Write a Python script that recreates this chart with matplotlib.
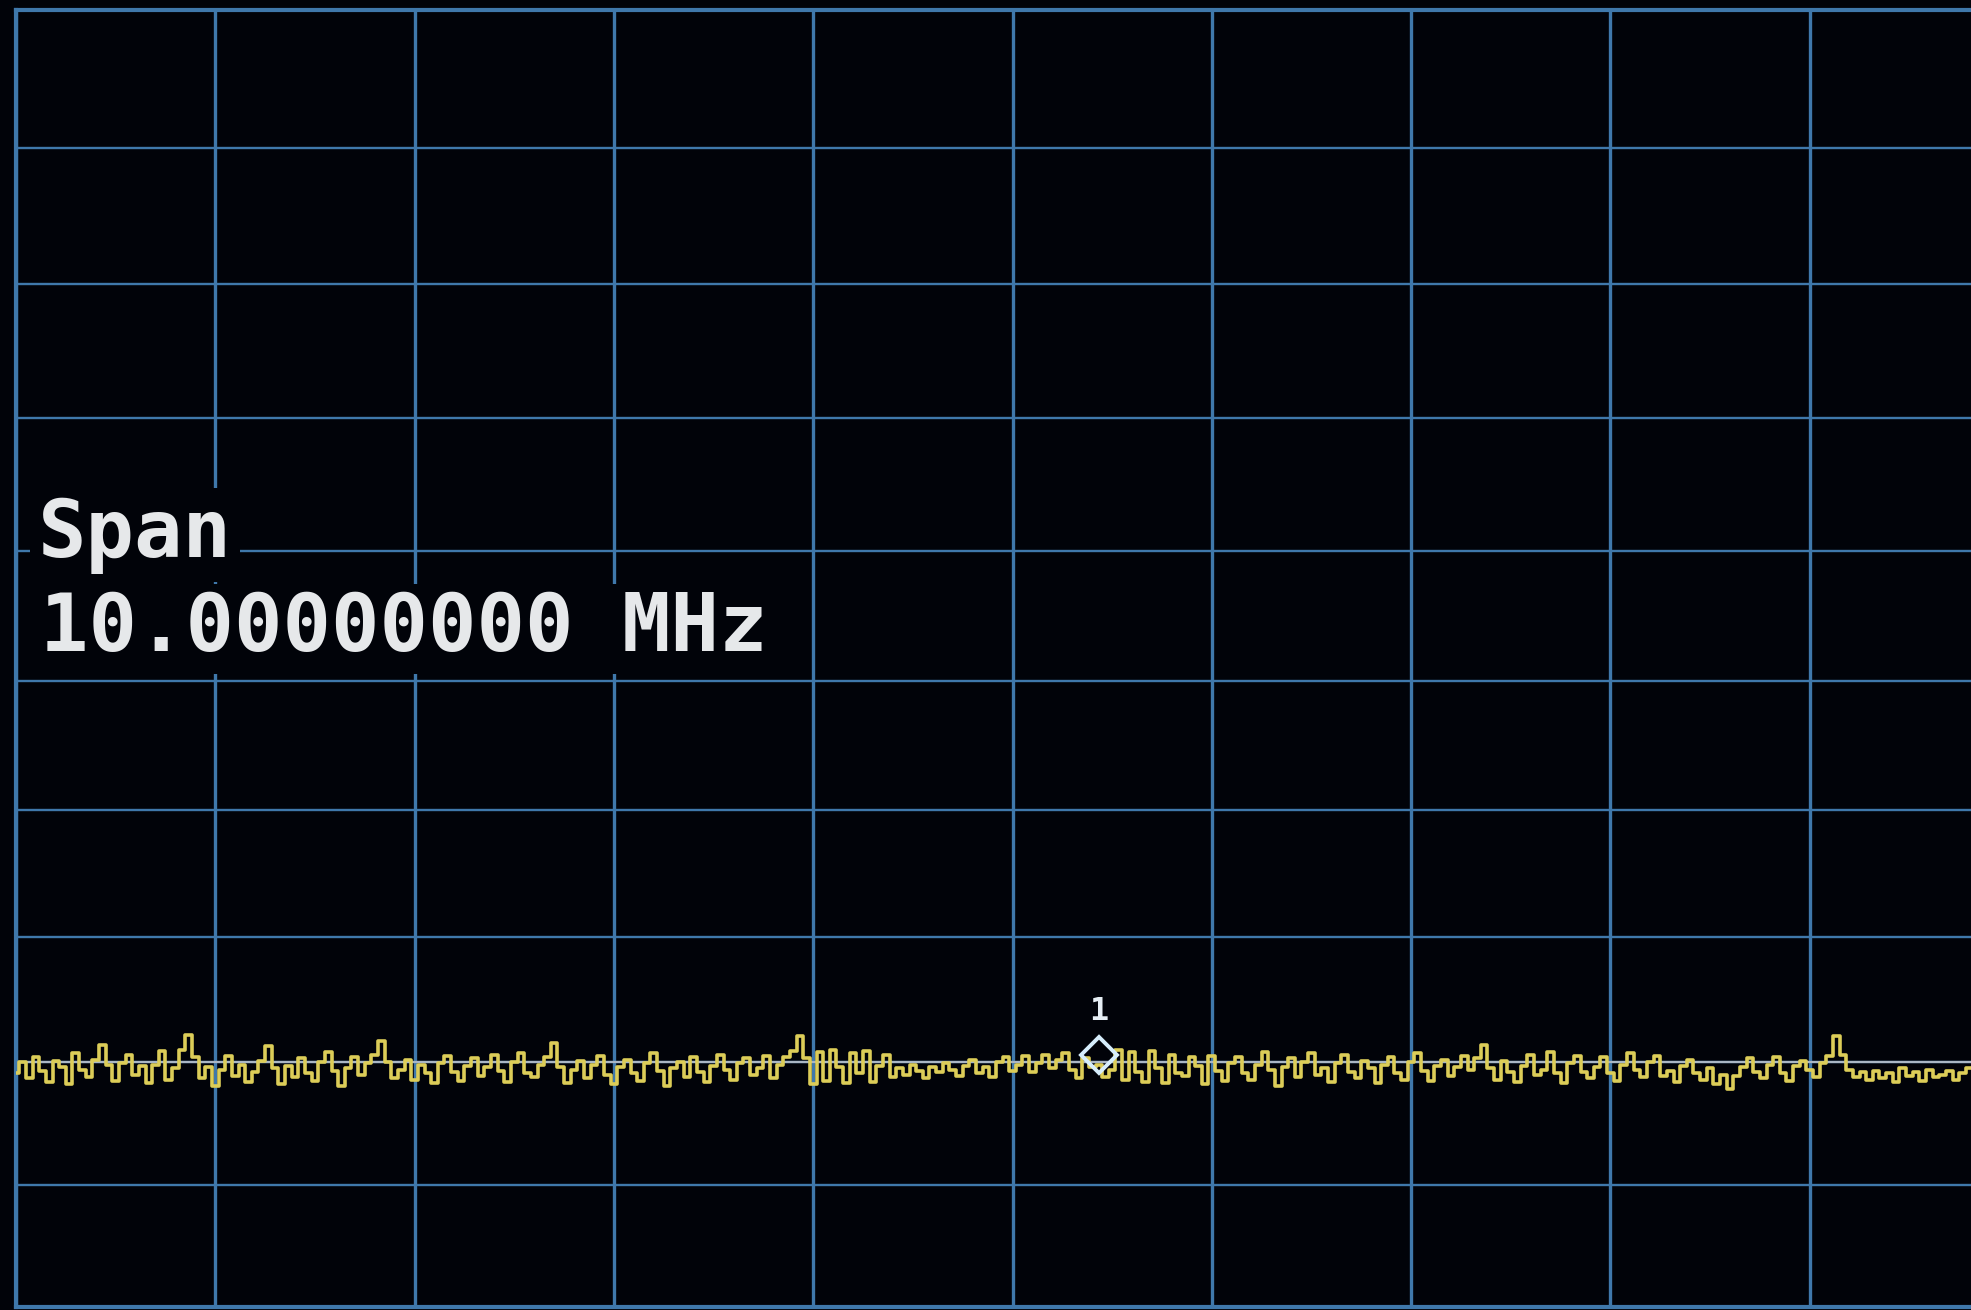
import numpy as np
import matplotlib
matplotlib.use('Agg')
import matplotlib.pyplot as plt
from matplotlib.transforms import offset_copy

# Sweep setup: 10 divisions across, 10 dB per division vertically.
span_mhz = 10.0
ref_level_dbm = 0.0
db_per_div = 10.0
display_line_dbm = -80.0

# Trace readings (dBm), one per sweep point.
trace_dbm = [
    -80.9, -80.0, -81.3, -79.6, -80.7, -81.6, -79.9, -80.4, -81.8, -79.3, -80.6, -81.2, -79.8, -78.6, -80.2, -81.5, -80.1, -79.4, -81.0, -80.3,
    -81.7, -80.2, -79.1, -81.4, -80.5, -79.0, -77.8, -79.6, -81.3, -80.4, -81.9, -80.6, -79.5, -81.1, -80.2, -81.6, -80.8, -79.9, -78.7, -80.5,
    -81.8, -80.3, -81.2, -79.7, -80.9, -81.5, -80.0, -79.2, -80.7, -81.9, -80.5, -79.6, -81.0, -80.1, -79.4, -78.3, -80.0, -81.3, -80.6, -79.8,
    -81.4, -80.2, -80.9, -81.7, -80.1, -79.5, -80.8, -81.5, -80.3, -79.7, -81.1, -80.4, -79.4, -80.7, -81.6, -80.0, -79.3, -80.9, -81.2, -80.2,
    -79.6, -78.5, -80.4, -81.7, -80.6, -79.9, -81.3, -80.2, -79.5, -81.0, -81.8, -80.4, -79.8, -80.9, -81.5, -80.1, -79.3, -80.7, -81.9, -80.5,
    -80.0, -81.2, -79.6, -80.8, -81.6, -80.3, -79.4, -80.6, -81.4, -80.1, -79.7, -81.0, -80.5, -79.5, -81.3, -80.2, -79.6, -79.1, -77.9, -79.7,
    -81.8, -79.2, -81.5, -79.0, -80.4, -81.7, -79.3, -80.9, -79.1, -81.6, -80.3, -79.4, -81.2, -80.5, -81.0, -80.2, -80.7, -81.3, -80.4, -80.8,
    -80.1, -80.6, -81.1, -80.3, -79.8, -80.9, -80.4, -81.2, -80.0, -79.6, -80.7, -80.2, -79.5, -80.8, -80.1, -79.4, -80.5, -79.8, -79.3, -80.6,
    -81.3, -79.7, -80.4, -80.2, -81.2, -80.6, -79.0, -81.4, -79.2, -80.8, -81.6, -79.1, -80.5, -81.7, -79.4, -80.9, -81.1, -79.6, -80.3, -81.8,
    -79.5, -80.7, -81.5, -80.1, -79.6, -80.9, -81.4, -80.2, -79.2, -80.6, -81.9, -80.4, -79.7, -81.2, -80.0, -79.3, -81.0, -80.5, -81.6, -80.1,
    -79.4, -80.8, -81.3, -79.9, -80.5, -81.7, -80.2, -79.6, -80.9, -81.4, -80.0, -79.3, -80.7, -81.5, -80.3, -79.8, -81.1, -80.4, -79.5, -80.6,
    -79.7, -78.6, -80.5, -81.4, -79.9, -80.8, -81.6, -80.3, -79.4, -81.0, -80.6, -79.2, -80.9, -81.7, -80.1, -79.5, -80.8, -81.3, -80.4, -79.6,
    -80.9, -81.5, -80.2, -79.3, -80.6, -81.2, -80.0, -79.5, -81.1, -80.7, -81.6, -80.3, -79.8, -80.9, -81.4, -80.5, -81.8, -81.0, -82.2, -81.1,
    -80.4, -79.7, -80.8, -81.3, -80.2, -79.6, -80.9, -81.5, -80.3, -79.9, -80.6, -81.2, -80.1, -79.5, -77.9, -79.4, -80.6, -81.2, -80.8, -81.4,
    -80.7, -81.3, -80.9, -81.6, -80.5, -81.1, -80.8, -81.5, -80.6, -81.2, -81.0, -80.7, -81.4, -80.9, -80.5, -81.3, -81.0, -80.6, -81.2, -80.8,
    -81.1,
]

# Marker 1 sits at this sweep point.
marker_index = 163
marker_label = '1'

span_label = 'Span'
span_text = '10.00000000 MHz'

# Sweep points are evenly spaced across the span.
freq_mhz = np.linspace(0.0, span_mhz, len(trace_dbm))

bg = '#010309'
grid_col = '#3f78ab'
trace_col = '#dccd58'
text_col = '#e6e8ea'

# The tube graticule is a little taller at the top than at the bottom.
bottom_dbm = ref_level_dbm - 10 * db_per_div
full_range = 10 * db_per_div
bow = 0.07


def screen_fwd(v):
    u = (np.asarray(v, dtype=float) - bottom_dbm) / full_range
    return bottom_dbm + full_range * (u + bow * (u * u - u))


def screen_inv(s):
    s = (np.asarray(s, dtype=float) - bottom_dbm) / full_range
    u = (-(1 - bow) + np.sqrt(np.maximum((1 - bow) ** 2 + 4 * bow * s, 0))) / (2 * bow)
    return bottom_dbm + full_range * u


fig = plt.figure(figsize=(19.71, 13.10), dpi=100, facecolor=bg)
# Graticule fills the screen; the last division runs off the right edge.
ax = fig.add_axes([16 / 1971, 3 / 1310, 1993 / 1971, 1297 / 1310])
ax.set_facecolor(bg)

ax.set_yscale('function', functions=(screen_fwd, screen_inv))
ax.set_xlim(0, span_mhz)
ax.set_ylim(bottom_dbm, ref_level_dbm)
ax.set_xticks(np.arange(0, 11) * span_mhz / 10)
ax.set_yticks(ref_level_dbm - np.arange(0, 11) * db_per_div)
ax.minorticks_off()
ax.tick_params(length=0, labelbottom=False, labelleft=False)

ax.grid(True, axis='x', color=grid_col, linewidth=2.4)
ax.grid(True, axis='y', color=grid_col, linewidth=1.7)
for side in ax.spines.values():
    side.set_color(grid_col)
    side.set_linewidth(3.0)

# Display line through the noise floor.
ax.axhline(display_line_dbm, color='#a9b6c4', linewidth=1.6, zorder=2)

# Trace, drawn as stepped pixels like the screen.
ax.plot(freq_mhz, trace_dbm, color=trace_col, linewidth=2.6,
        drawstyle='steps-mid', zorder=3)

# Marker 1 diamond and its number.
mx = freq_mhz[marker_index]
my = trace_dbm[marker_index]
ax.plot([mx], [my], marker='D', markersize=18, markerfacecolor='none',
        markeredgecolor='#d6eefc', markeredgewidth=2.8, linestyle='none',
        zorder=4, transform=offset_copy(ax.transData, fig=fig, y=10, units='dots'))
ax.annotate(marker_label, xy=(mx, my), xytext=(0, 38), textcoords='offset points',
            ha='center', va='center', color='#e6eef4', fontsize=23,
            fontweight='bold', family='DejaVu Sans Mono', zorder=5)

# Span readout with black boxes hiding the graticule behind it.
fig.text(38 / 1971, 1 - 557 / 1310, span_label, color=text_col, fontsize=58,
         fontweight='bold', family='DejaVu Sans Mono', va='baseline', ha='left',
         bbox=dict(boxstyle='square,pad=0.1', facecolor=bg, edgecolor='none'))
fig.text(40 / 1971, 1 - 651 / 1310, span_text, color=text_col, fontsize=58,
         fontweight='bold', family='DejaVu Sans Mono', va='baseline', ha='left',
         bbox=dict(boxstyle='square,pad=0.08', facecolor=bg, edgecolor='none'))

fig.savefig('out.png', dpi=100, facecolor=bg)
